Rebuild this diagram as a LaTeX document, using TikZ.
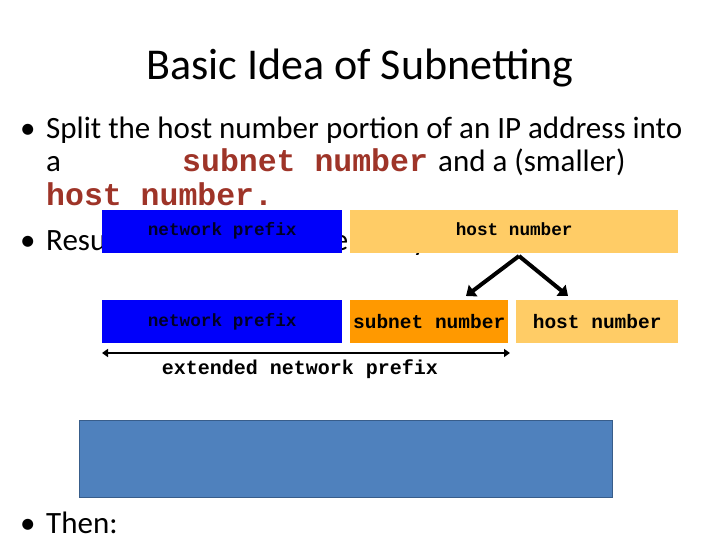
\documentclass[tikz,border=0pt]{standalone}
\usepackage{fontspec}
\usetikzlibrary{arrows.meta}
\setmainfont{Carlito}
\newfontfamily\cour{Liberation Mono}
\definecolor{rd}{RGB}{158,52,40}
\begin{document}
\begin{tikzpicture}[x=1pt,y=-1pt,
  bx/.style={minimum height=43pt,inner sep=0pt,anchor=north west,font=\cour\bfseries\fontsize{17.7}{17.7}\selectfont},
  bt/.style={anchor=base west,inner sep=0pt,font=\fontsize{31}{31}\selectfont},
  red/.style={text=rd,font=\cour\bfseries\fontsize{31.5}{31.5}\selectfont}]
\useasboundingbox (0,0) rectangle (720,540);
\node (title) at (360,68) {\fontsize{44}{44}\selectfont Basic Idea of Subnetting};
\node[bt] (d1) at (20,139) {\textbullet};
\node[bt] (b1) at (46,139) {Split the host number portion of an IP address into};
\node[bt] (a) at (46,172) {a};
\node[bt,red] (sn) at (182,172) {subnet number};
\node[bt] (sm) at (438,172) {and a (smaller)};
\node[bt,red] (hn) at (46,206) {host number.};
\node[bt] (d2) at (20,251) {\textbullet};
\node[bt] (b2) at (46,251) {Result: A three-level hierarchy};
\node[bt] (d3) at (20,533) {\textbullet};
\node[bt] (b3) at (46,533) {Then:};
\node[bx,fill={rgb,255:red,0;green,0;blue,250},minimum width=240pt,text=black!85!blue] (np1) at (102,210) {\raisebox{6pt}{network prefix}};
\node[bx,fill={rgb,255:red,255;green,204;blue,102},minimum width=328pt] (hn1) at (350,210) {\raisebox{6pt}{host number}};
\node[bx,fill={rgb,255:red,0;green,0;blue,250},minimum width=240pt,text=black!85!blue] (np2) at (102,300) {network prefix};
\node[bx,fill={rgb,255:red,255;green,153;blue,0},minimum width=158pt,font=\cour\bfseries\fontsize{19.5}{19.5}\selectfont] (sb2) at (350,300) {subnet number};
\node[bx,fill={rgb,255:red,255;green,204;blue,102},minimum width=162pt,font=\cour\bfseries\fontsize{19.5}{19.5}\selectfont] (hn2) at (516,300) {host number};
\coordinate (apex) at (519,256);
\coordinate (lt) at (466,296);
\coordinate (rt) at (568,296);
\draw[line width=4pt,-{Triangle[length=9pt,width=14pt]}] (apex) -- (lt);
\draw[line width=4pt,-{Triangle[length=9pt,width=14pt]}] (apex) -- (rt);
\coordinate (e1) at (102,353);
\coordinate (e2) at (510,353);
\draw[line width=2.5pt,{Triangle[length=6pt,width=8pt]}-{Triangle[length=6pt,width=8pt]}] (e1) -- (e2);
\node[font=\cour\bfseries\fontsize{20}{20}\selectfont] (ext) at (300,369) {extended network prefix};
\node[draw={rgb,255:red,56;green,93;blue,138},line width=1pt,fill={rgb,255:red,79;green,129;blue,189},minimum width=533pt,minimum height=77pt,anchor=north west] (big) at (79,420) {};
\end{tikzpicture}
\end{document}
